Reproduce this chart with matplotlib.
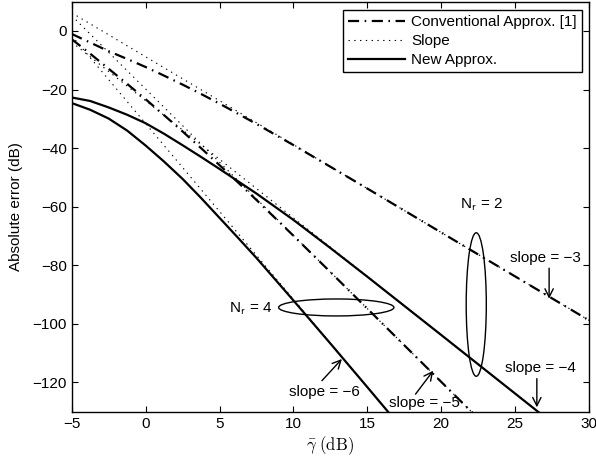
import matplotlib
matplotlib.use('Agg')
import matplotlib.pyplot as plt
from matplotlib.patches import Ellipse

# average SNR (dB)
snr = [-5, -3.75, -2.5, -1.25, 0, 1.25, 2.5, 3.75, 5, 6.25, 7.5, 10, 12.5, 15, 20, 25, 30]

# absolute error (dB)
conv_nr2 = [-1.0, -3.95, -6.9, -9.55, -12.3, -15.25, -18.3, -21.5, -24.8, -28.25,
            -31.75, -38.95, -46.35, -53.8, -68.8, -83.8, -98.8]
conv_nr4 = [-2.8, -7.75, -12.9, -18.05, -23.3, -28.75, -34.3, -40.0, -45.8, -51.7,
            -57.7, -69.9, -82.3, -94.8, -119.8, -144.8, -169.8]
new_nr2 = [-22.7, -23.9, -26.1, -28.6, -31.5, -35.1, -39.0, -43.0, -47.1, -51.3,
           -55.5, -64.5, -74.1, -83.9, -103.8, -123.8, -143.8]
new_nr4 = [-24.6, -26.9, -29.9, -34.0, -39.1, -44.6, -50.5, -57.0, -63.8, -70.6,
           -77.5, -92.0, -106.7, -121.6, -151.6, -181.6, -211.6]

# reference slope lines (end points)
slope_x = [-5, 30]
slope3 = [6.2, -98.8]
slope4 = [-3.8, -143.8]
slope5 = [5.2, -169.8]
slope6 = [-1.6, -211.6]

plt.rcParams['font.family'] = ['Liberation Sans', 'DejaVu Sans']
plt.rcParams['font.size'] = 11
plt.rcParams['mathtext.fontset'] = 'cm'

fig = plt.figure(figsize=(5.96, 4.59), dpi=100)
ax = fig.add_axes([0.1203, 0.103, 0.868, 0.8933])

dot = (0, (1.2, 4))
dashdot = (0, (5, 2.5, 0.7, 2.5))

ax.plot(slope_x, slope3, color='k', lw=0.8, linestyle=dot)
ax.plot(slope_x, slope4, color='k', lw=0.8, linestyle=dot)
ax.plot(slope_x, slope5, color='k', lw=0.8, linestyle=dot)
ax.plot(slope_x, slope6, color='k', lw=0.8, linestyle=dot)

ax.plot(snr, conv_nr2, color='k', lw=1.6, linestyle=dashdot)
ax.plot(snr, conv_nr4, color='k', lw=1.6, linestyle=dashdot)
ax.plot(snr, new_nr2, color='k', lw=1.6)
ax.plot(snr, new_nr4, color='k', lw=1.6)

# legend handles
h1, = ax.plot([], [], color='k', lw=1.6, linestyle=dashdot, label='Conventional Approx. [1]')
h2, = ax.plot([], [], color='k', lw=0.8, linestyle=dot, label='Slope')
h3, = ax.plot([], [], color='k', lw=1.6, label='New Approx.')

ax.add_patch(Ellipse((22.37, -93.4), 1.36, 49.0, fill=False, color='k', lw=1.0))
ax.add_patch(Ellipse((12.9, -94.4), 7.8, 5.8, fill=False, color='k', lw=1.0))

ax.text(21.25, -60.5, r'N$_\mathsf{r}$ = 2', ha='left', va='baseline')
ax.text(5.63, -96.0, r'N$_\mathsf{r}$ = 4', ha='left', va='baseline')

ax.text(24.64, -78.8, 'slope = \u22123', ha='left', va='baseline')
ax.text(24.3, -116.6, 'slope = \u22124', ha='left', va='baseline')
ax.text(9.7, -124.5, 'slope = \u22126', ha='left', va='baseline')
ax.text(16.45, -128.3, 'slope = \u22125', ha='left', va='baseline')

arrow = dict(arrowstyle='->', lw=1.0, color='k', shrinkA=0, shrinkB=0, mutation_scale=15)
ax.annotate('', xy=(27.3, -91.4), xytext=(27.3, -81.0), arrowprops=arrow)
ax.annotate('', xy=(26.47, -128.5), xytext=(26.47, -118.7), arrowprops=arrow)
ax.annotate('', xy=(13.28, -112.0), xytext=(11.93, -119.4), arrowprops=arrow)
ax.annotate('', xy=(19.46, -116.0), xytext=(18.26, -124.0), arrowprops=arrow)

ax.set_xlim(-5, 30)
ax.set_ylim(-130, 10)
ax.set_xticks(range(-5, 31, 5))
ax.set_yticks(range(-120, 1, 20))
ax.tick_params(direction='in', top=True, right=True, length=4, width=0.8, labelsize=11)
for sp in ax.spines.values():
    sp.set_linewidth(1.0)

ax.set_xlabel(r'$\bar{\gamma}\ \mathrm{(dB)}$', fontsize=12)
ax.set_ylabel('Absolute error (dB)', fontsize=11)
ax.xaxis.set_label_coords(0.5, -0.055)
ax.yaxis.set_label_coords(-0.095, 0.5)

leg = ax.legend(handles=[h1, h2, h3], loc='upper right',
                bbox_to_anchor=(0.9865, 0.98), fancybox=False, framealpha=1,
                edgecolor='k', handlelength=3.7, handletextpad=0.4,
                labelspacing=0.32, borderpad=0.35, borderaxespad=0, fontsize=11)
leg.get_frame().set_linewidth(1.0)

fig.savefig('out.png', dpi=100)
